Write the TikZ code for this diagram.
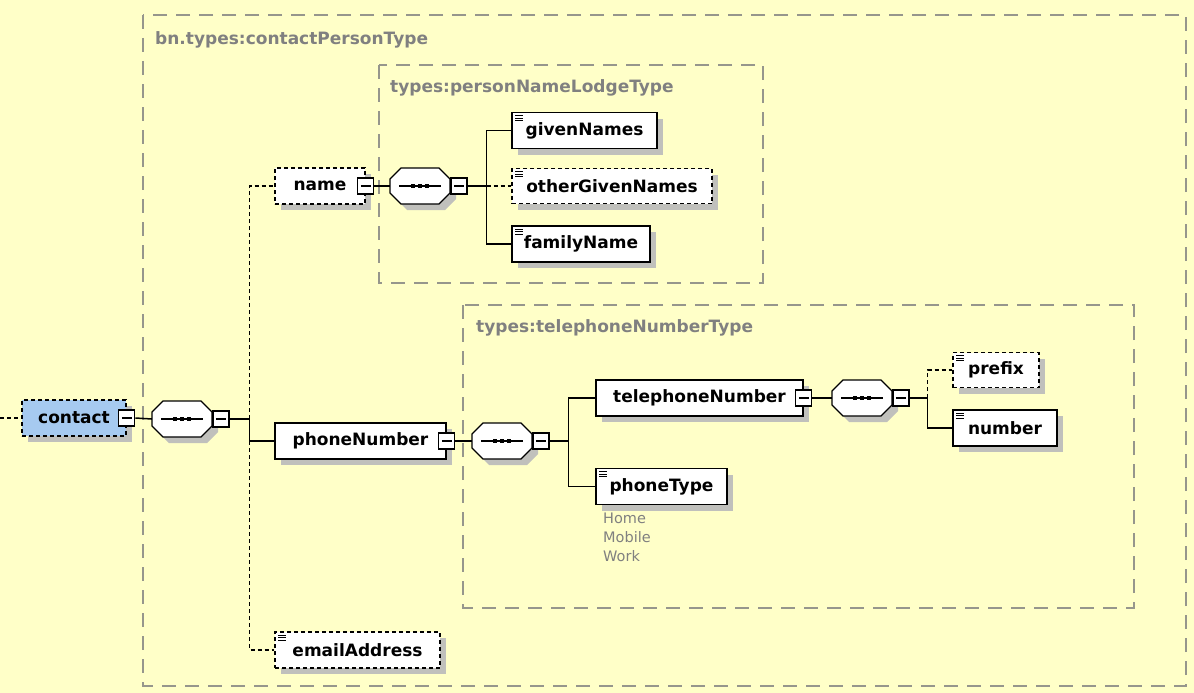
\documentclass[tikz,border=0pt]{standalone}
\usepackage{fontspec}
\setmainfont{DejaVu Sans}
\usepackage{tikz}
\usetikzlibrary{positioning,shadows}
\usepackage{xcolor}

\definecolor{bgyellow}{RGB}{255,255,200}
\definecolor{grpgray}{RGB}{150,150,140}
\definecolor{lblgray}{RGB}{128,128,128}
\definecolor{selblue}{RGB}{166,202,240}
\definecolor{shadowgray}{RGB}{192,192,188}

\tikzset{
  elem/.style={draw, line width=1.6pt, fill=white, text=black,
    font=\bfseries\fontsize{17}{20}\selectfont,
    minimum height=36pt, inner sep=0pt,
    general shadow={fill=shadowgray, shadow xshift=6pt, shadow yshift=-6pt}},
  optelem/.style={elem, dash pattern=on 4pt off 3pt},
  simple/.style={path picture={
      \foreach \k in {3,5.5,8}
        \draw[line width=1pt, solid] ([xshift=3pt,yshift=-\k pt]path picture bounding box.north west) -- ++(8pt,0);}},
  minusbox/.style={draw, line width=1.3pt, fill=white, minimum size=16pt, inner sep=0pt,
    path picture={\draw[line width=1.3pt] ([xshift=3pt]path picture bounding box.west) -- ([xshift=-3pt]path picture bounding box.east);}},
  seqcore/.style={minimum width=60pt, minimum height=36pt, inner sep=0pt},
  group/.style={draw=grpgray, line width=1.6pt, dash pattern=on 14pt off 9pt},
  grouplabel/.style={text=lblgray, font=\bfseries\fontsize{17}{20}\selectfont, anchor=west, inner sep=0pt},
  conn/.style={line width=1.5pt},
  optconn/.style={conn, dash pattern=on 4pt off 3pt},
}

% sequence compositor: octagon with shadow and dots, plus a named core node
\newcommand{\seqnode}[3]{%
  \begin{scope}[shift={(#2,#3)}]
    \fill[shadowgray] (-13,-12) -- (25,-12) -- (36,-1) -- (36,13) -- (25,24) -- (-13,24) -- (-24,13) -- (-24,-1) -- cycle;
    \filldraw[fill=white, line width=1.3pt] (-19,-18) -- (19,-18) -- (30,-7) -- (30,7) -- (19,18) -- (-19,18) -- (-30,7) -- (-30,-7) -- cycle;
    \draw[line width=1.3pt] (-21,0) -- (21,0);
    \foreach \d in {-7,0,7}
      \fill (\d-2.2,-2.2) rectangle (\d+2.2,2.2);
  \end{scope}
  \node[seqcore] (#1) at (#2,#3) {};
}

\begin{document}
\begin{tikzpicture}[x=1pt, y=-1pt]
  \fill[bgyellow] (0,0) rectangle (1194,693);
  \useasboundingbox (0,0) rectangle (1194,693);

  % type groups
  \draw[group] (143,15) rectangle (1186,686);
  \node[grouplabel] (lblcontact) at (155,40) {bn.types:contactPersonType};
  \draw[group] (379,65) rectangle (763,283);
  \node[grouplabel] (lblname) at (390,88) {types:personNameLodgeType};
  \draw[group] (463,305) rectangle (1134,608);
  \node[grouplabel] (lblphone) at (476,328) {types:telephoneNumberType};

  % contact
  \node[optelem, fill=selblue, minimum width=104pt] (contact) at (74,418) {contact};
  \node[minusbox] (contactm) at (contact.east) {};
  \seqnode{seq1}{182}{419}
  \node[minusbox, right=0pt of seq1] (seq1m) {};

  % name
  \node[optelem, minimum width=90pt] (name) at (320,186) {name};
  \node[minusbox] (namem) at (name.east) {};
  \seqnode{seq2}{420}{186}
  \node[minusbox, right=0pt of seq2] (seq2m) {};
  \node[elem, simple, minimum width=145pt] (givenNames) at (584.5,130.5) {givenNames};
  \node[optelem, simple, minimum width=200pt, minimum height=35pt] (otherGivenNames) at (612,186) {otherGivenNames};
  \node[elem, simple, minimum width=138pt] (familyName) at (581,244) {familyName};

  % phone
  \node[elem, minimum width=171pt] (phoneNumber) at (360.5,441) {phoneNumber};
  \node[minusbox] (phoneNumberm) at (phoneNumber.east) {};
  \seqnode{seq3}{502}{441}
  \node[minusbox, right=0pt of seq3] (seq3m) {};
  \node[elem, minimum width=207pt] (telephoneNumber) at (699.5,398) {telephoneNumber};
  \node[minusbox] (telephoneNumberm) at (telephoneNumber.east) {};
  \seqnode{seq4}{862}{398}
  \node[minusbox, right=0pt of seq4] (seq4m) {};
  \node[optelem, simple, minimum width=86pt, minimum height=35pt] (prefix) at (996,370) {prefix};
  \node[elem, simple, minimum width=104pt] (number) at (1005,428) {number};
  \node[elem, simple, minimum width=131pt] (phoneType) at (661.5,486.5) {phoneType};
  \node[anchor=north west, inner sep=0pt, align=left, text=lblgray,
    font=\fontsize{14.5}{19}\selectfont] (phoneTypeVals) at (603,513) {Home\\Mobile\\Work};

  % email
  \node[optelem, simple, minimum width=165pt] (emailAddress) at (357.5,650) {emailAddress};

  % connectors
  \coordinate (entry) at (0,418);
  \draw[optconn] (entry) -- (contact.west);
  \draw[conn] (contactm.east) -- (seq1.west);
  \draw[conn] (seq1m.east) -- ++(20,0) coordinate (trunkA);
  \draw[optconn] (trunkA) |- (name.west);
  \draw[conn] (trunkA) |- (phoneNumber.west);
  \draw[optconn] (phoneNumber.west -| trunkA) |- (emailAddress.west);

  \draw[conn] (namem.east) -- (seq2.west);
  \draw[conn] (seq2m.east) -- ++(19,0) coordinate (trunkB);
  \draw[conn] (trunkB) |- (givenNames.west);
  \draw[optconn] (trunkB) -- (otherGivenNames.west);
  \draw[conn] (trunkB) |- (familyName.west);

  \draw[conn] (phoneNumberm.east) -- (seq3.west);
  \draw[conn] (seq3m.east) -- ++(19,0) coordinate (trunkC);
  \draw[conn] (trunkC) |- (telephoneNumber.west);
  \draw[conn] (trunkC) |- (phoneType.west);

  \draw[conn] (telephoneNumberm.east) -- (seq4.west);
  \draw[conn] (seq4m.east) -- ++(18,0) coordinate (trunkD);
  \draw[optconn] (trunkD) |- (prefix.west);
  \draw[conn] (trunkD) |- (number.west);
\end{tikzpicture}
\end{document}
